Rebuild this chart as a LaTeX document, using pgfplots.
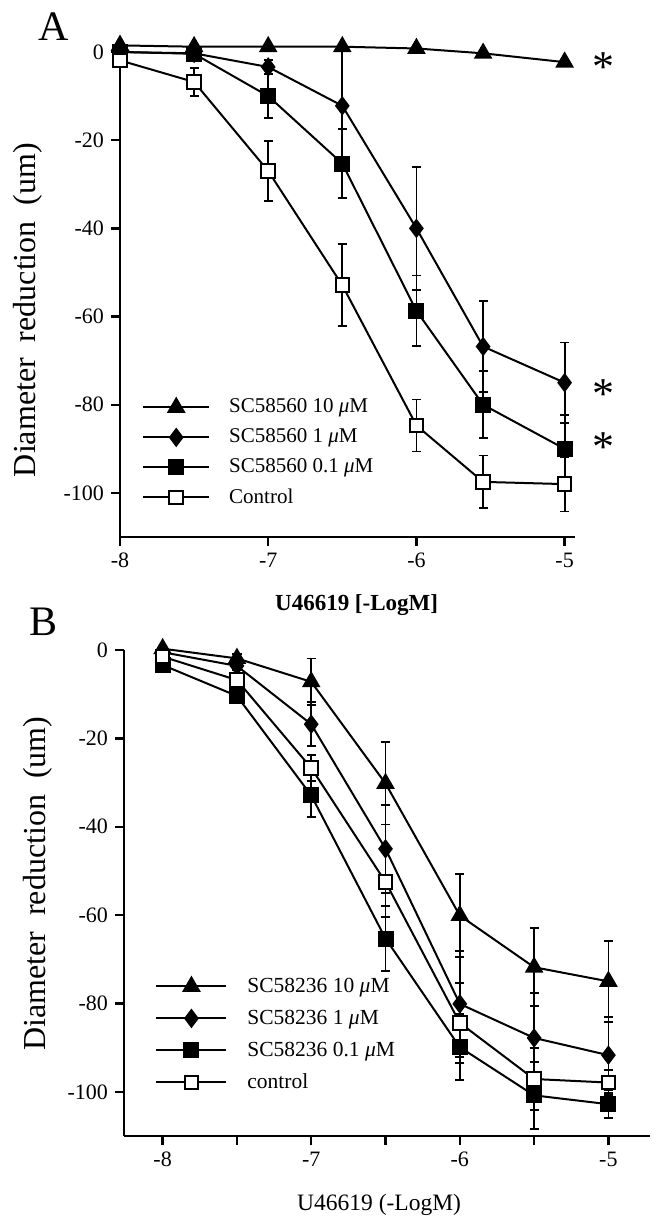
\documentclass[border=0pt]{standalone}
\usepackage{pgfplots}
\pgfplotsset{compat=1.18}
\usepackage{pgfplotstable}
\usepackage{fontspec}
\setmainfont{Liberation Serif}

% Panel A data (x, mean, error)
\pgfplotstableread{
x y e
-8 1.5 0
-7.5 1.2 0
-7 1.2 0
-6.5 1.2 0
-6 0.8 0
-5.55 -0.3 0
-5 -2.3 0
}\Atri
\pgfplotstableread{
x y e
-8 0 0
-7.5 -0.3 0
-7 -3.4 1.5
-6.5 -12.2 13
-6 -40 14
-5.55 -66.8 10.4
-5 -75 9.1
}\Adia
\pgfplotstableread{
x y e
-8 0 0
-7.5 -0.4 0.5
-7 -10 5
-6.5 -25.3 7.8
-6 -58.7 8
-5.55 -80 7.6
-5 -90 7.6
}\Asq
\pgfplotstableread{
x y e
-8 -1.9 0.5
-7.5 -6.8 3.2
-7 -27 6.8
-6.5 -52.9 9.3
-6 -84.7 5.9
-5.55 -97.5 6
-5 -98 6.2
}\Actl
% Panel B data
\pgfplotstableread{
x y e
-8 0.3 0
-7.5 -1.9 1
-7 -7.2 5.3
-6.5 -30.2 9.3
-6 -60.1 9.4
-5.5 -71.8 8.8
-5 -75 9.2
}\Btri
\pgfplotstableread{
x y e
-8 -0.5 0
-7.5 -3.6 1
-7 -16.8 5
-6.5 -45 10
-6 -80.1 12
-5.5 -87.8 10.2
-5 -91.7 8.6
}\Bdia
\pgfplotstableread{
x y e
-8 -3.4 0.5
-7.5 -10.4 1
-7 -32.9 4.9
-6.5 -65.3 7.4
-6 -89.9 7.5
-5.5 -100.8 7.6
-5 -102.8 3.2
}\Bsq
\pgfplotstableread{
x y e
-8 -1.5 0.5
-7.5 -6.8 1
-7 -26.7 3
-6.5 -52.5 8
-6 -84.4 9
-5.5 -97.1 7
-5 -97.9 2.8
}\Bctl

\pgfplotsset{
  panel/.style={
    scale only axis, clip=false,
    axis x line*=bottom, axis y line*=left,
    axis line style={line width=1.2bp, black},
    every tick/.style={line width=1.2bp, black},
    tick align=outside,
    major tick length=4.5bp,
    ymin=-110, ymax=0,
    ytick={-100,-80,-60,-40,-20,0},
    yticklabels={-100,-80,-60,-40,-20,0},
    tick label style={font=\fontsize{11bp}{13bp}\selectfont},
    legend cell align=left,
    legend image code/.code={\draw[mark repeat=2,mark phase=2,##1] plot coordinates {(0bp,0bp)(16.5bp,0bp)(33bp,0bp)};},
  },
  eb/.style={error bars/.cd, y dir=both, y explicit,
    error bar style={line width=0.9bp, solid, black},
    error mark options={mark size=2.3bp, line width=0.9bp, solid, black, rotate=90}},
  tri/.style={black, line width=1bp, mark=triangle*, mark size=4.4bp, mark options={solid, fill=black}},
  dia/.style={black, line width=1bp, mark=diamond*, mark size=4.1bp, mark options={solid, fill=black}},
  fsq/.style={black, line width=1bp, mark=square*, mark size=3.5bp, mark options={solid, fill=black}},
  osq/.style={black, line width=1bp, mark=square*, mark size=3.4bp, mark options={solid, fill=white}},
}

\begin{document}
\begin{tikzpicture}
\useasboundingbox (0,0) rectangle (329bp,-615bp);

\node[font=\fontsize{21bp}{24bp}\selectfont] at (27bp,-13.5bp) {A};
\node[font=\fontsize{21bp}{24bp}\selectfont] at (22bp,-311bp) {B};

% Panel A
\begin{axis}[panel,
  at={(60bp,-268.5bp)}, anchor=south west,
  width=227.5bp, height=242.5bp,
  xmin=-8, xmax=-4.93,
  xtick={-8,-7,-6,-5}, xticklabels={-8,-7,-6,-5},
  xlabel={\textbf{U46619 [-LogM]}},
  xlabel style={at={(axis description cs:0.52,-0.1402)}, anchor=center, font=\fontsize{11.5bp}{13bp}\selectfont},
  ylabel={Diameter\ \ reduction\ \ (um)},
  ylabel style={at={(axis description cs:-0.2022,0.468)}, anchor=center, rotate=0, font=\fontsize{16bp}{18bp}\selectfont},
  legend style={draw=none, fill=none, at={(0.048,0.299)}, anchor=north west, inner sep=0pt,
    font=\fontsize{10.5bp}{12bp}\selectfont, nodes={inner sep=0pt, minimum height=15bp}, column sep=9.5bp, row sep=0pt},
]
\addplot[tri] table[x=x,y=y]{\Atri};
\addplot[dia, eb] table[x=x,y=y,y error=e]{\Adia};
\addplot[fsq, eb] table[x=x,y=y,y error=e]{\Asq};
\addplot[osq, eb] table[x=x,y=y,y error=e]{\Actl};
\legend{SC58560 10 \textit{μ}M, SC58560 1 \textit{μ}M, SC58560 0.1 \textit{μ}M, Control}
\node[font=\fontsize{22bp}{24bp}\selectfont] at (axis cs:-4.74,-3.5) {*};
\node[font=\fontsize{22bp}{24bp}\selectfont] at (axis cs:-4.74,-77.5) {*};
\node[font=\fontsize{22bp}{24bp}\selectfont] at (axis cs:-4.74,-89.5) {*};
\end{axis}

% Panel B
\begin{axis}[panel,
  at={(62bp,-568bp)}, anchor=south west,
  width=263bp, height=243bp,
  xmin=-8.26, xmax=-4.72,
  xtick={-8,-7.5,-7,-6.5,-6,-5.5,-5}, xticklabels={-8,,-7,,-6,,-5},
  xlabel={U46619 (-LogM)},
  xlabel style={at={(axis description cs:0.485,-0.142)}, anchor=center, font=\fontsize{11.75bp}{13bp}\selectfont},
  ylabel={Diameter\ \ reduction\ \ (um)},
  ylabel style={at={(axis description cs:-0.1635,0.519)}, anchor=center, rotate=0, font=\fontsize{16bp}{18bp}\selectfont},
  legend style={draw=none, fill=none, at={(0.059,0.3416)}, anchor=north west, inner sep=0pt,
    font=\fontsize{10.75bp}{12bp}\selectfont, nodes={inner sep=0pt, minimum height=16bp}, column sep=10bp, row sep=0pt},
  legend image code/.code={\draw[mark repeat=2,mark phase=2,#1] plot coordinates {(0bp,0bp)(17.5bp,0bp)(35bp,0bp)};},
]
\addplot[tri, eb] table[x=x,y=y,y error=e]{\Btri};
\addplot[dia, eb] table[x=x,y=y,y error=e]{\Bdia};
\addplot[fsq, eb] table[x=x,y=y,y error=e]{\Bsq};
\addplot[osq, eb] table[x=x,y=y,y error=e]{\Bctl};
\legend{SC58236 10 \textit{μ}M, SC58236 1 \textit{μ}M, SC58236 0.1 \textit{μ}M, control}
\end{axis}
\end{tikzpicture}
\end{document}
